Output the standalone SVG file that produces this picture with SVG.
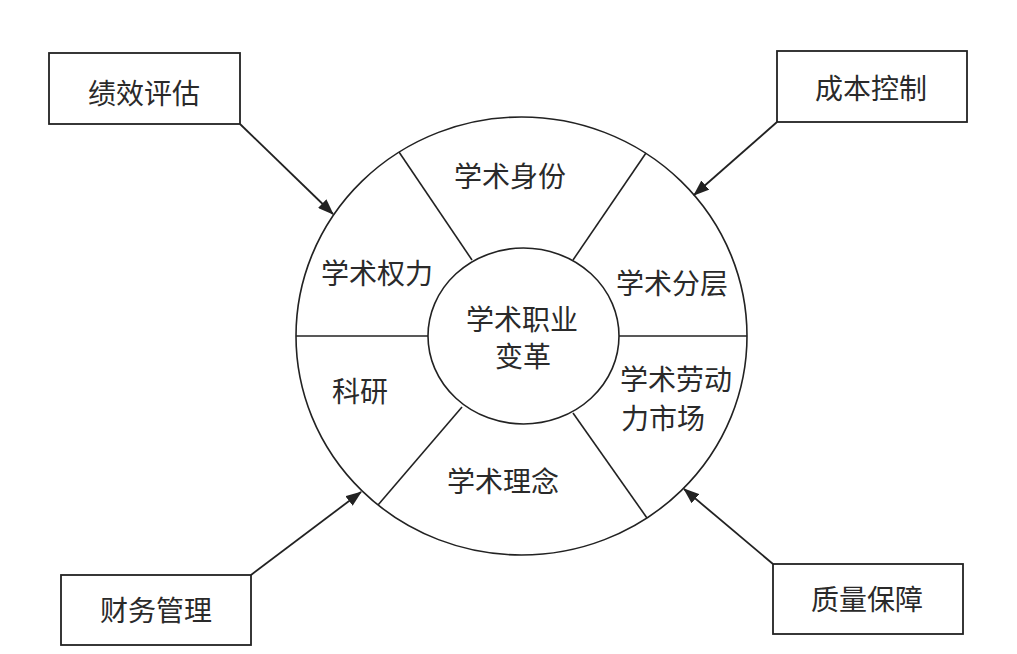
<svg xmlns="http://www.w3.org/2000/svg" width="1017" height="654" viewBox="0 0 1017 654">
<style>
.ln{fill:none;stroke:#222;stroke-width:1.6}
.bx{fill:#fff;stroke:#222;stroke-width:1.8}
.t{font-family:"Noto Sans CJK SC","Noto Sans CJK TC",sans-serif;font-size:28px;fill:#2a2a2a;dominant-baseline:central}
.c{text-anchor:middle}
.ar{fill:none;stroke:#222;stroke-width:1.8;marker-end:url(#ah)}
</style>
<defs>
<marker id="ah" markerUnits="userSpaceOnUse" markerWidth="16" markerHeight="12" refX="15" refY="6" orient="auto">
<path d="M0,0 L16,6 L0,12 Z" fill="#222"/>
</marker>
</defs>
<rect width="1017" height="654" fill="#fff"/>
<g id="wheel">
<ellipse class="ln" cx="521.5" cy="336" rx="225.5" ry="219"/>
<line class="ln" x1="399" y1="152" x2="472" y2="260"/>
<line class="ln" x1="646" y1="153" x2="573" y2="260"/>
<line class="ln" x1="462" y1="407" x2="378" y2="505"/>
<line class="ln" x1="573" y1="413" x2="647" y2="518"/>
<line class="ln" x1="296" y1="336" x2="428" y2="336"/>
<line class="ln" x1="619" y1="336" x2="747" y2="336"/>
<ellipse class="ln" cx="523.5" cy="336" rx="95.5" ry="88" fill="#fff"/>
</g>
<g id="center"><text class="t c" x="522" y="318">学术职业</text><text class="t c" x="523" y="355">变革</text></g>
<g id="seg-identity"><text class="t c" x="510" y="175">学术身份</text></g>
<g id="seg-power"><text class="t c" x="377" y="272">学术权力</text></g>
<g id="seg-strata"><text class="t c" x="672" y="282">学术分层</text></g>
<g id="seg-labor"><text class="t" x="620" y="378">学术劳动</text><text class="t" x="621" y="417">力市场</text></g>
<g id="seg-research"><text class="t c" x="360" y="390">科研</text></g>
<g id="seg-idea"><text class="t c" x="503" y="480">学术理念</text></g>
<g id="box-perf"><rect class="bx" x="49" y="53" width="191" height="71"/><text class="t c" x="144" y="92">绩效评估</text></g>
<g id="box-cost"><rect class="bx" x="777" y="51" width="190" height="71"/><text class="t c" x="871" y="87">成本控制</text></g>
<g id="box-fin"><rect class="bx" x="61" y="575" width="190" height="70"/><text class="t c" x="156" y="609">财务管理</text></g>
<g id="box-qa"><rect class="bx" x="773" y="564" width="190" height="70"/><text class="t c" x="867" y="598">质量保障</text></g>
<g id="connectors">
<line class="ar" x1="240" y1="124" x2="333" y2="214"/>
<line class="ar" x1="777" y1="122" x2="694" y2="195"/>
<line class="ar" x1="251" y1="575" x2="361" y2="492"/>
<line class="ar" x1="773" y1="564" x2="684" y2="489"/>
</g>
</svg>
